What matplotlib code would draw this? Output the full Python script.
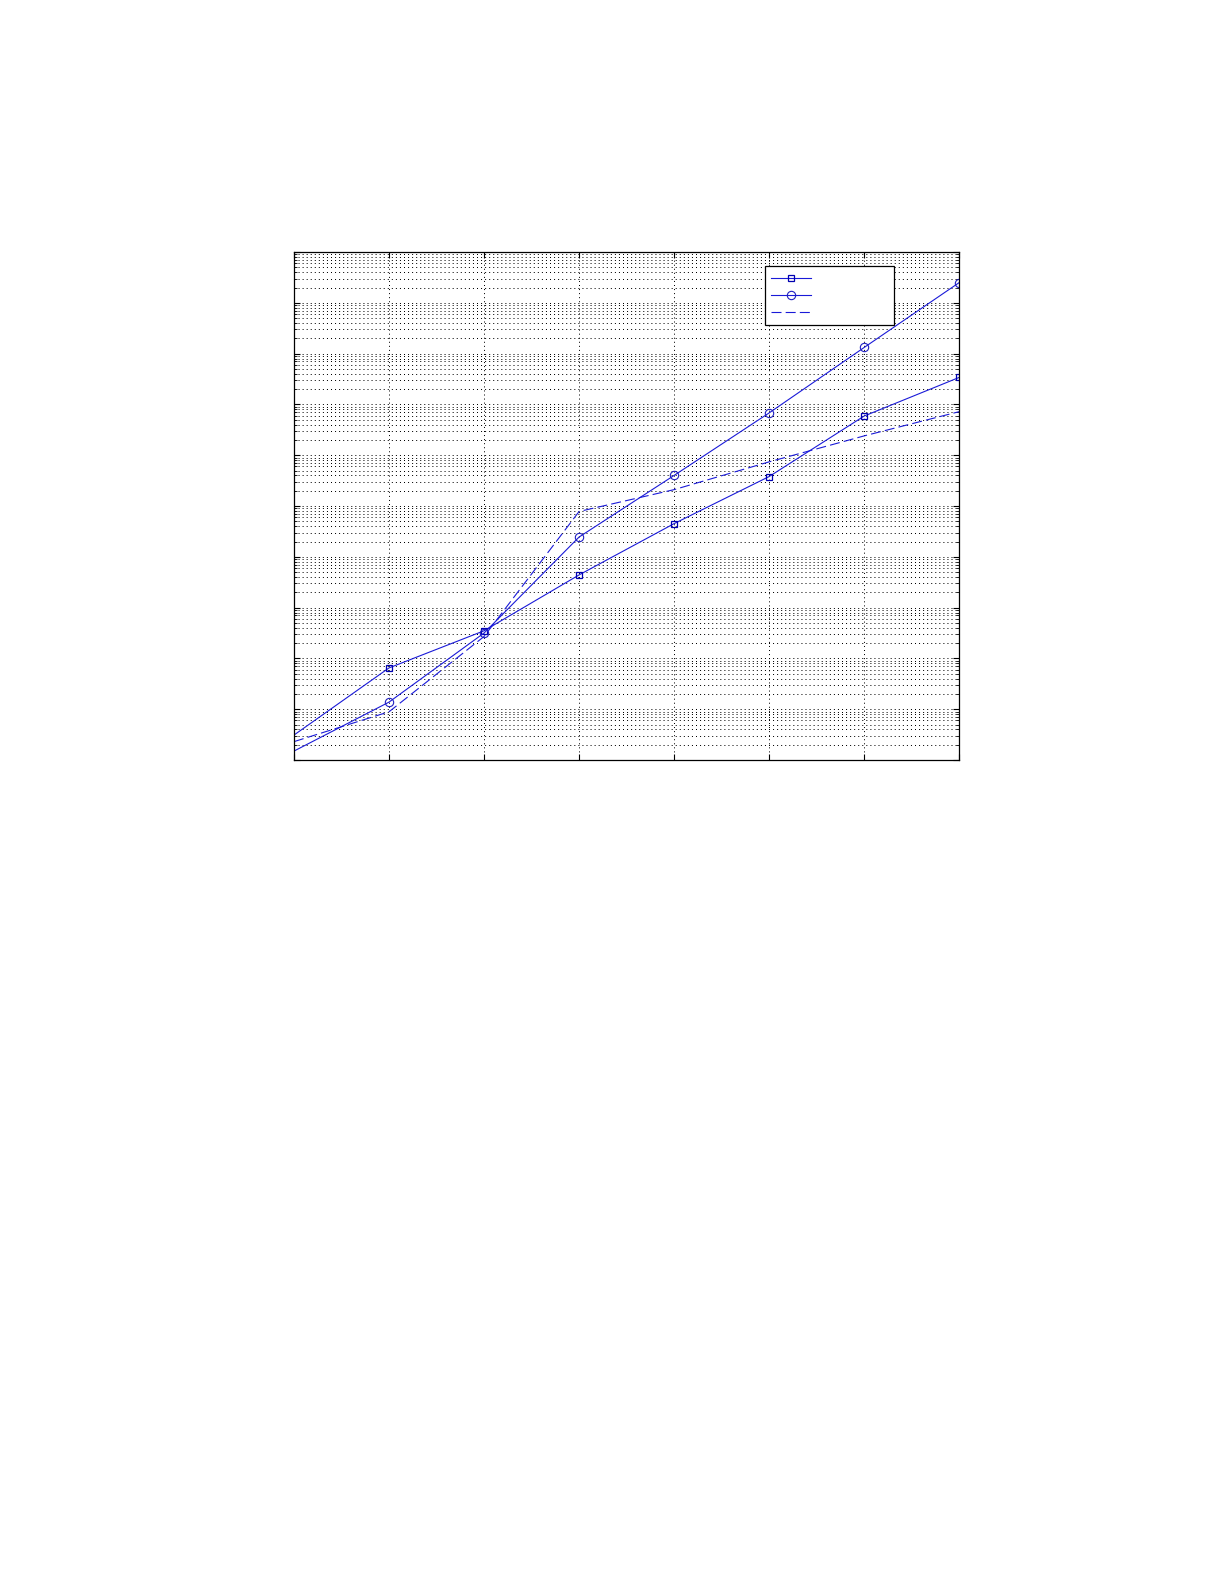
import numpy as np
import matplotlib
matplotlib.use('Agg')
import matplotlib.pyplot as plt
from matplotlib.ticker import LogLocator, NullFormatter

plt.rcParams['lines.scale_dashes'] = False

# ---------------------------------------------------------------------------
# Data (log y axis spans 10 decades)
# ---------------------------------------------------------------------------
x_vals = [0, 1, 2, 3, 4, 5, 6, 7]
y_square = [3.1, 65, 350, 4.4e3, 4.5e4, 3.8e5, 5.9e6, 3.4e7]
y_circle = [1.5, 13.8, 316, 2.45e4, 4.0e5, 6.8e6, 1.32e8, 2.5e9]
y_dashed = [2.3, 8.9, 270, 7.8e4, 2.1e5, 7.4e5, 2.4e6, 7.2e6]

x_lim = (0, 7)
y_lim = (1e0, 1e10)

# ---------------------------------------------------------------------------
# Figure
# ---------------------------------------------------------------------------
fig = plt.figure(figsize=(12.25, 15.85), dpi=100)
ax = fig.add_axes([0.240, 0.5205, 0.543, 0.3205])

line_col = '#1a1ad8'
lw = 0.8

# the first point sits on the left spine without a marker in the reference
h1, = ax.plot(x_vals, y_square, color=line_col, lw=lw, marker='s', ms=5,
              mfc='none', mec='#0000b0', mew=0.9, markevery=slice(1, None))
h2, = ax.plot(x_vals, y_circle, color=line_col, lw=lw, marker='o', ms=6,
              mfc='none', mec='#2020c0', mew=0.8, markevery=slice(1, None))
h3, = ax.plot(x_vals, y_dashed, color=line_col, lw=lw, linestyle=(0, (7.2, 3.0)))

ax.set_yscale('log')
ax.set_xlim(*x_lim)
ax.set_ylim(*y_lim)
ax.set_xticks(x_vals)
ax.yaxis.set_major_locator(LogLocator(base=10, numticks=20))
ax.yaxis.set_minor_locator(LogLocator(base=10, subs=np.arange(2, 10), numticks=20))
ax.yaxis.set_minor_formatter(NullFormatter())

# dotted MATLAB-like grid
grid_style = dict(color='black', linestyle=(0, (0.72, 2.2)), linewidth=0.72)
ax.grid(True, which='major', axis='both', **grid_style)
ax.grid(True, which='minor', axis='y', **grid_style)

ax.tick_params(which='both', direction='in', top=True, right=True,
               labelleft=False, labelbottom=False, color='black')
ax.tick_params(which='major', length=4.5, width=0.8)
ax.tick_params(which='minor', length=2.5, width=0.6)
for sp in ax.spines.values():
    sp.set_linewidth(0.9)
    sp.set_color('black')

blank = '\u2007' * 9
leg = ax.legend([h1, h2, h3], [blank, blank, blank], loc='upper right',
                bbox_to_anchor=(0.911, 0.984), fancybox=False, framealpha=1,
                edgecolor='black', handlelength=3.2, handletextpad=0.4,
                borderpad=0.45, labelspacing=0.35, fontsize=9)
leg.get_frame().set_linewidth(0.9)

fig.savefig('out.png', dpi=100)
